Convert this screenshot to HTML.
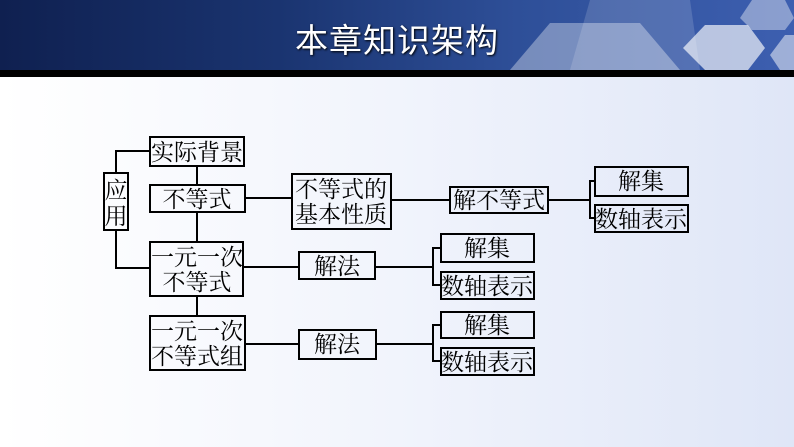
<!DOCTYPE html>
<html><head><meta charset="utf-8"><style>
html,body{margin:0;padding:0;width:794px;height:447px;overflow:hidden}
body{background:linear-gradient(90deg,#ffffff 0%,#f1f4fc 50%,#dfe6f7 100%);position:relative;font-family:"Liberation Serif","Noto Serif CJK SC",serif}
#hdr{position:absolute;left:0;top:0;width:794px;height:70px;background:linear-gradient(90deg,#0f2050 0%,#1a3470 35%,#2e4f98 65%,#3d5fb0 100%);overflow:hidden}
#bar{position:absolute;left:0;top:70px;width:794px;height:7px;background:#000}
#ttl{position:absolute;left:0;width:794px;top:14px;text-align:center;color:#fff;font:33px "Liberation Sans","Noto Sans CJK SC",sans-serif;letter-spacing:1px;text-shadow:1px 1px 2px #000}
</style></head><body>
<div id="hdr">
<svg width="794" height="70" style="position:absolute;left:0;top:0">
<polygon points="510,70 550,23 640,23 680,70" fill="#fff" opacity="0.35"/>
<polygon points="570,70 590,0 690,0 700,70" fill="#fff" opacity="0.15"/>
<polygon points="683,48 705,25 748,25 765,48 748,70 705,70" fill="#fff" opacity="0.65"/>
<polygon points="740,18 752,0 785,0 794,18 785,30 752,30" fill="#fff" opacity="0.4"/>
<polygon points="770,55 785,35 794,35 794,70 780,70" fill="#fff" opacity="0.5"/>
</svg>
<div id="ttl">本章知识架构</div>
</div>
<div id="bar"></div>
<svg width="794" height="447" style="position:absolute;left:0;top:0" font-family="Liberation Serif, Noto Serif CJK SC, serif" font-size="23" fill="#000">
<g stroke="#000" stroke-width="2" fill="none">
<polyline points="150,151 116,151 116,173"/>
<polyline points="116,230 116,268 150,268"/>
<line x1="197" y1="166" x2="197" y2="185"/>
<line x1="197" y1="212" x2="197" y2="242"/>
<line x1="197" y1="296" x2="197" y2="316"/>
<line x1="245" y1="198" x2="292" y2="198"/>
<line x1="391" y1="200" x2="450" y2="200"/>
<line x1="548" y1="200" x2="590" y2="200"/>
<polyline points="595,181 590,181 590,218 595,218"/>
<line x1="243" y1="267" x2="299" y2="267"/>
<line x1="375" y1="267" x2="433" y2="267"/>
<polyline points="441,248 433,248 433,285 441,285"/>
<line x1="245" y1="344" x2="299" y2="344"/>
<line x1="376" y1="344" x2="433" y2="344"/>
<polyline points="441,325 433,325 433,361 441,361"/>
<rect x="150" y="137" width="94" height="29"/>
<rect x="104" y="173" width="24" height="57"/>
<rect x="150" y="185" width="95" height="27"/>
<rect x="292" y="174" width="99" height="55"/>
<rect x="450" y="187" width="98" height="26"/>
<rect x="595" y="167" width="93" height="29"/>
<rect x="595" y="205" width="93" height="27"/>
<rect x="150" y="242" width="93" height="54"/>
<rect x="299" y="252" width="76" height="27"/>
<rect x="441" y="234" width="93" height="28"/>
<rect x="441" y="272" width="93" height="27"/>
<rect x="150" y="316" width="95" height="54"/>
<rect x="299" y="330" width="77" height="29"/>
<rect x="441" y="312" width="93" height="26"/>
<rect x="441" y="348" width="93" height="27"/>
</g>
<g text-anchor="middle">
<text x="197" y="160">实际背景</text>
<text x="116" y="198">应</text>
<text x="116" y="224">用</text>
<text x="197" y="207">不等式</text>
<text x="341" y="197">不等式的</text>
<text x="341" y="222">基本性质</text>
<text x="499" y="208">解不等式</text>
<text x="641" y="189">解集</text>
<text x="641" y="227">数轴表示</text>
<text x="197" y="265">一元一次</text>
<text x="197" y="290">不等式</text>
<text x="337" y="274">解法</text>
<text x="487" y="256">解集</text>
<text x="487" y="294">数轴表示</text>
<text x="197" y="339">一元一次</text>
<text x="197" y="364">不等式组</text>
<text x="337" y="352">解法</text>
<text x="487" y="333">解集</text>
<text x="487" y="370">数轴表示</text>
</g>
</svg>
</body></html>
